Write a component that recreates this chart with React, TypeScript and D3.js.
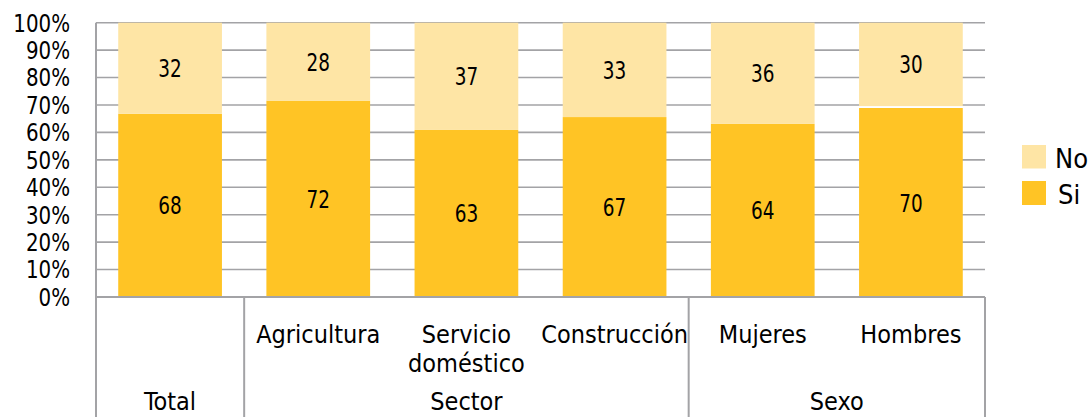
import React from "react";
import * as d3 from "d3";

// categories and groups
const categories = ["Total", "Agricultura", "Servicio|doméstico", "Construcción", "Mujeres", "Hombres"];
const groups = [
  { name: "Total", members: ["Total"] },
  { name: "Sector", members: ["Agricultura", "Servicio|doméstico", "Construcción"] },
  { name: "Sexo", members: ["Mujeres", "Hombres"] },
];

// share of each bar (as drawn) and the printed labels
const siShare = [66.8, 71.6, 60.9, 65.6, 63.1, 68.9];
const noShare = [33.2, 28.4, 39.1, 34.4, 36.9, 30.4];
const siLabels = ["68", "72", "63", "67", "64", "70"];
const noLabels = ["32", "28", "37", "33", "36", "30"];
const yTicks = [0, 10, 20, 30, 40, 50, 60, 70, 80, 90, 100];

const W = 1090;
const H = 417;
const SI = "#FFC425";
const NO = "#FEE5A5";
const GRID = "#A3A3A6";
const FONT = "'DejaVu Sans Condensed', 'DejaVu Sans', sans-serif";

// narrow numeric text: condensed font squeezed a bit more
function NarrowText({ x, y, anchor, size, squeeze, children }) {
  return (
    <text
      transform={`translate(${x},${y}) scale(${squeeze},1)`}
      dy="0.36em"
      textAnchor={anchor}
      fontFamily={FONT}
      fontSize={size}
      fill="#000"
    >
      {children}
    </text>
  );
}

export default function App() {
  const left = 96;
  const right = 985;
  const top = 22.7;
  const bottom = 297;

  const x = d3
    .scaleBand()
    .domain(categories)
    .range([left, right])
    .paddingInner(0.3)
    .paddingOuter(0.15);

  const y = d3.scaleLinear().domain([0, 100]).range([bottom, top]);

  const step = x.step();
  const edge = (c) => x(c) - (step * 0.3) / 2;

  const groupEdges = groups.map((g) => edge(g.members[0]));
  groupEdges.push(right);

  return (
    <svg
      width={W}
      height={H}
      style={{ position: "absolute", left: 0, top: 0, background: "#fff" }}
    >
      {/* gridlines */}
      {yTicks.map((t) => (
        <line
          key={"g" + t}
          x1={left}
          x2={right}
          y1={y(t)}
          y2={y(t)}
          stroke={GRID}
          strokeWidth={t === 0 ? 2.2 : 1.6}
        />
      ))}
      {/* y axis line */}
      <line x1={left} x2={left} y1={top} y2={H} stroke={GRID} strokeWidth={2} />

      {/* y tick labels */}
      {yTicks.map((t) => (
        <NarrowText key={"t" + t} x={70} y={y(t)} anchor="end" size={24.5} squeeze={0.9}>
          {t + "%"}
        </NarrowText>
      ))}

      {/* bars */}
      {categories.map((c, i) => (
        <g key={c}>
          <rect
            x={x(c)}
            y={y(siShare[i])}
            width={x.bandwidth()}
            height={y(0) - y(siShare[i])}
            fill={SI}
          />
          <rect
            x={x(c)}
            y={y(100)}
            width={x.bandwidth()}
            height={y(100 - noShare[i]) - y(100)}
            fill={NO}
          />
          <NarrowText
            x={x(c) + x.bandwidth() / 2}
            y={(y(0) + y(siShare[i])) / 2}
            anchor="middle"
            size={25}
            squeeze={0.82}
          >
            {siLabels[i]}
          </NarrowText>
          <NarrowText
            x={x(c) + x.bandwidth() / 2}
            y={(y(100) + y(100 - noShare[i])) / 2}
            anchor="middle"
            size={25}
            squeeze={0.82}
          >
            {noLabels[i]}
          </NarrowText>
        </g>
      ))}

      {/* category axis baseline */}
      <line x1={left} x2={right} y1={bottom} y2={bottom} stroke={GRID} strokeWidth={2.2} />

      {/* group separators */}
      {groupEdges.map((gx, i) => (
        <line key={"s" + i} x1={gx} x2={gx} y1={bottom} y2={H} stroke={GRID} strokeWidth={2} />
      ))}

      {/* category labels (inner row), Total has none */}
      {categories.map((c) =>
        c === "Total"
          ? null
          : c.split("|").map((line, j) => (
              <text
                key={c + j}
                x={x(c) + x.bandwidth() / 2}
                y={342.5 + j * 29.5}
                textAnchor="middle"
                fontFamily={FONT}
                fontSize={25}
              >
                {line}
              </text>
            ))
      )}

      {/* group labels */}
      {groups.map((g, i) => (
        <text
          key={g.name}
          x={(groupEdges[i] + groupEdges[i + 1]) / 2}
          y={410}
          textAnchor="middle"
          fontFamily={FONT}
          fontSize={25}
        >
          {g.name}
        </text>
      ))}

      {/* legend */}
      <rect x={1022} y={145} width={24} height={23.5} fill={NO} />
      <rect x={1022} y={181} width={24} height={24} fill={SI} />
      <text x={1055} y={167.5} fontFamily={FONT} fontSize={27}>
        No
      </text>
      <text x={1058} y={204} fontFamily={FONT} fontSize={27}>
        Si
      </text>
    </svg>
  );
}
